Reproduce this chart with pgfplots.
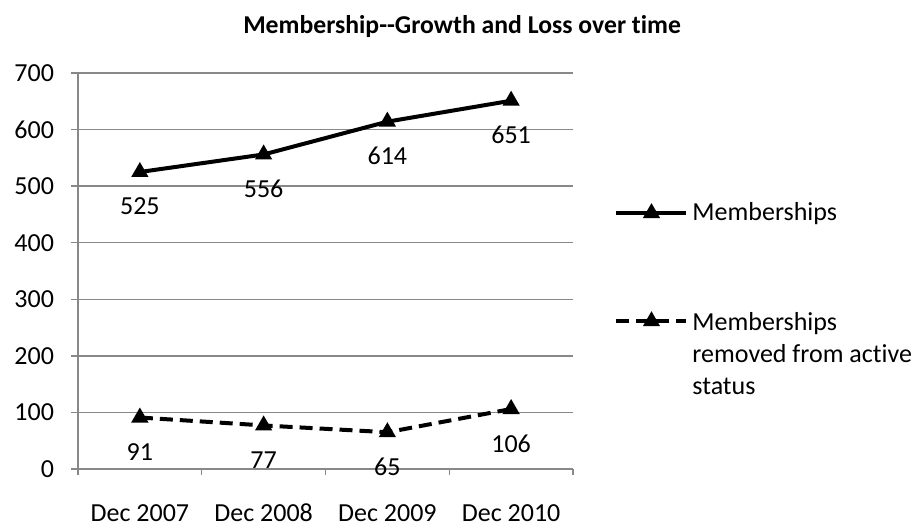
\documentclass[border=0pt]{standalone}
\usepackage{pgfplots}
\pgfplotsset{compat=1.18}
\usepackage{fontspec}
\setmainfont{Carlito}[Ligatures={TeX,NoCommon}]
\definecolor{axgray}{HTML}{888888}
\newcommand\lblfont{\fontsize{13}{16}\selectfont}
\begin{document}
\lblfont
\begin{tikzpicture}
\useasboundingbox (0,0) rectangle (462pt,264.5pt);
\begin{axis}[
  at={(39pt,30pt)}, anchor=south west,
  scale only axis, width=247.5pt, height=198pt,
  xmin=-0.5, xmax=3.5, ymin=0, ymax=700,
  axis x line*=bottom, axis y line*=left,
  axis line style={draw=axgray, -, line width=0.7pt},
  xtick={0,1,2,3},
  xticklabels={Dec 2007,Dec 2008,Dec 2009,Dec 2010},
  minor xtick={-0.5,0.5,1.5,2.5,3.5},
  major x tick style={draw=none},
  minor x tick style={draw=axgray, line width=0.7pt},
  minor tick length=3pt,
  major tick length=3.5pt,
  tick align=outside,
  ytick={0,100,...,700},
  y tick style={draw=axgray, line width=0.7pt},
  ymajorgrids,
  grid style={draw=axgray, line width=0.7pt},
  /pgf/number format/assume math mode=true,
  ticklabel style={font=\lblfont, text=black},
  xticklabel style={text height=9pt, text depth=3pt, yshift=-9pt},
  yticklabel style={xshift=-4pt},
  nodes near coords,
  every node near coord/.style={anchor=base, yshift=-21.5pt, font=\lblfont, text=black},
  title={Membership-{}-Growth and Loss over time},
  title style={at={(axis description cs:0.776,1)}, anchor=center, yshift=17pt, font=\fontsize{12.85}{16}\selectfont\bfseries},
  legend image code/.code={
    \draw[mark repeat=2,mark phase=2,#1] plot coordinates {(0pt,0pt) (17.5pt,0pt) (35pt,0pt)};
  },
  legend cell align=left,
  legend style={draw=none, fill=none, font=\lblfont,
    at={(axis description cs:1.083,0.685)}, anchor=north west,
    row sep=38pt, inner sep=0pt},
]
\addplot[black, line width=2pt, mark=triangle*, mark size=3pt, mark options={solid}]
  coordinates {(0,525) (1,556) (2,614) (3,651)};
\addlegendentry{Memberships}
\addplot[black, line width=2pt, dash pattern=on 6.5pt off 3.5pt, mark=triangle*, mark size=3pt, mark options={solid}]
  coordinates {(0,91) (1,77) (2,65) (3,106)};
\addlegendentry{\begin{tabular}[t]{@{}l@{}}Memberships\\removed from active\\status\end{tabular}}
\end{axis}
\end{tikzpicture}
\end{document}
